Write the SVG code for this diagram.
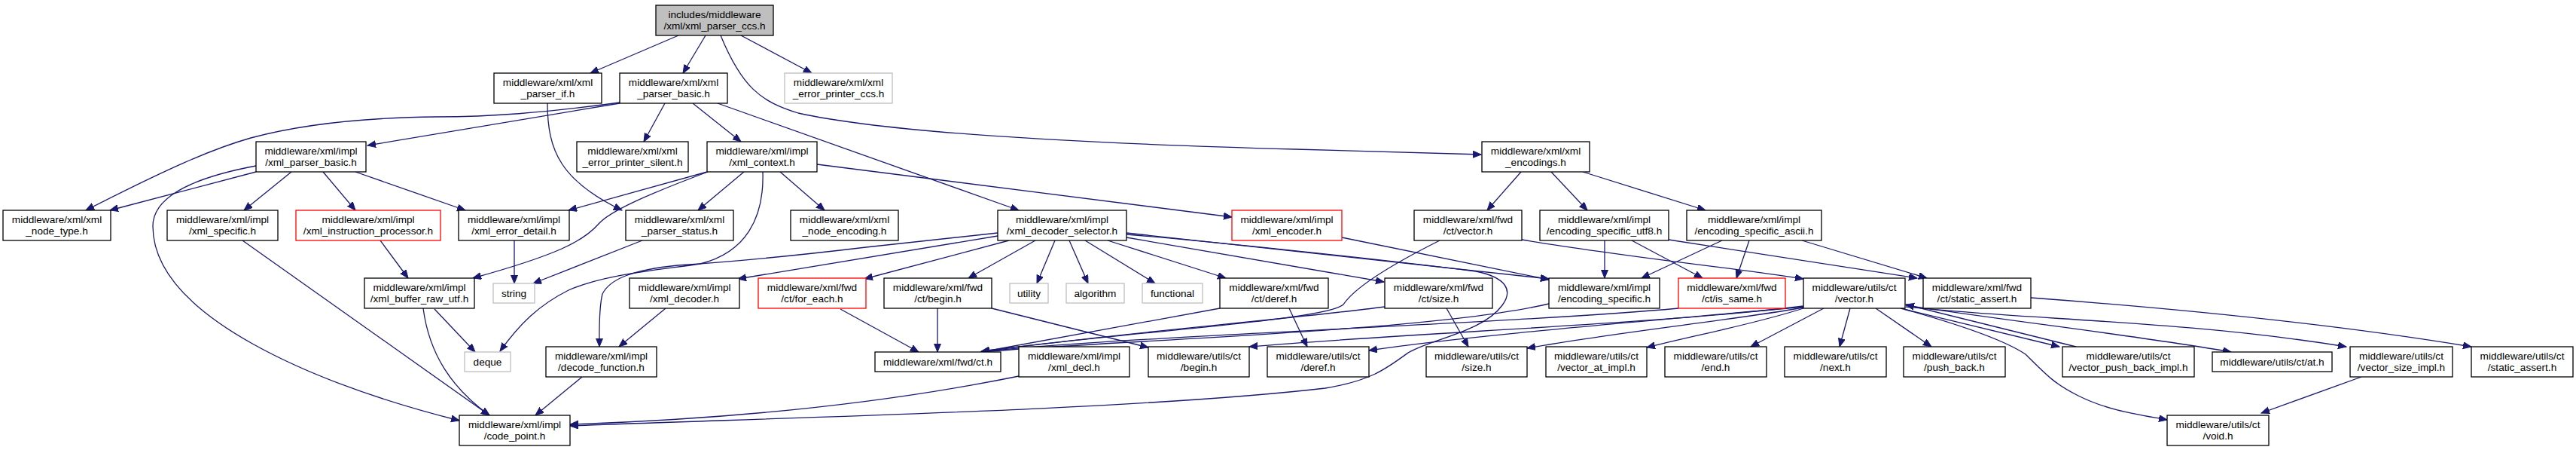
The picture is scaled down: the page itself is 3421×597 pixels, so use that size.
<svg xmlns="http://www.w3.org/2000/svg" width="3421" height="597" viewBox="0 0 3421 597">
<style>
.n rect{fill:#fff;stroke:#000;stroke-width:1.3}
.root rect{fill:#bfbfbf}
.ext rect{stroke:#bfbfbf}
.red rect{stroke:#ff0000}
text{font-family:"Liberation Sans",Arial,Helvetica,sans-serif;font-size:13.6px;text-anchor:middle;fill:#000}
#edges path{fill:none;stroke:#191970;stroke-width:1.3;marker-end:url(#a)}
</style>
<defs>
<marker id="a" markerWidth="12" markerHeight="10" refX="11" refY="4.5" orient="auto" markerUnits="userSpaceOnUse"><path d="M0,0 L11,4.5 L0,9 z" fill="#191970" stroke="#191970" stroke-width="1"/></marker>
</defs>
<rect width="3421" height="597" fill="#fff"/>
<g id="edges">
<path d="M901,47 L784,97"/>
<path d="M937,47 L907,97"/>
<path d="M984,47 L1078,97"/>
<path d="M957,47 C985,115 1010,135 1060,150 C1150,170 1350,188 1720,198 L1967,205"/>
<path d="M727,137 C727,200 745,240 826,279"/>
<path d="M823,137 L488,193"/>
<path d="M823,136 C720,150 650,155 580,155 C480,156 400,165 333,183 C280,198 220,225 114,279"/>
<path d="M883,137 L855,188"/>
<path d="M920,137 L984,188"/>
<path d="M953,137 L1353,279"/>
<path d="M340,228 L146,279"/>
<path d="M387,228 L324,279"/>
<path d="M429,228 L472,279"/>
<path d="M472,228 L618,279"/>
<path d="M340,220 C260,235 203,260 203,300 C203,420 420,510 610,558"/>
<path d="M939,228 L755,279"/>
<path d="M988,228 L927,279"/>
<path d="M1036,228 L1095,279"/>
<path d="M1085,218 L1636,288"/>
<path d="M940,228 C860,258 810,280 795,297 C775,320 740,338 628,369"/>
<path d="M1013,228 C1015,290 990,335 930,350 C860,360 800,365 755,385 C715,405 690,430 664,466"/>
<path d="M683,319 L683,376"/>
<path d="M853,319 L708,376"/>
<path d="M505,319 L542,369"/>
<path d="M322,319 L650,551"/>
<path d="M577,410 L631,467"/>
<path d="M562,409 C570,470 600,515 650,551"/>
<path d="M773,500 L711,551"/>
<path d="M884,409 L822,460"/>
<path d="M1325,309 L1150,328 C1050,340 960,348 900,352 C840,358 810,370 800,390 C795,410 796,440 796,460"/>
<path d="M1325,313 L980,370"/>
<path d="M1340,319 L1148,370"/>
<path d="M1375,319 L1286,369"/>
<path d="M1401,319 L1377,376"/>
<path d="M1420,319 L1445,376"/>
<path d="M1441,319 L1534,376"/>
<path d="M1471,319 L1628,369"/>
<path d="M1496,315 L1838,374"/>
<path d="M1496,309 L2057,370"/>
<path d="M1496,311 C1600,320 1800,340 1960,360 C2000,368 2010,385 1995,405 C1970,440 1900,450 1870,468 C1840,490 1820,505 1760,515 C1500,545 1000,555 757,565"/>
<path d="M1353,499 C1200,530 1000,555 757,563"/>
<path d="M1782,315 L2057,371"/>
<path d="M2020,228 L1975,279"/>
<path d="M2060,228 L2108,279"/>
<path d="M2102,228 L2265,279"/>
<path d="M2131,319 L2131,369"/>
<path d="M2167,319 L2261,369"/>
<path d="M2287,319 L2180,369"/>
<path d="M2323,319 L2306,369"/>
<path d="M2393,319 L2559,369"/>
<path d="M2216,318 L2546,369"/>
<path d="M2021,318 C2150,340 2300,355 2395,370"/>
<path d="M1912,319 C1850,350 1800,380 1784,404 C1760,425 1500,440 1303,466"/>
<path d="M1245,409 L1245,467"/>
<path d="M1116,410 L1220,467"/>
<path d="M1317,409 L1525,461"/>
<path d="M1620,409 L1303,467"/>
<path d="M1712,409 L1736,460"/>
<path d="M1921,409 L1950,460"/>
<path d="M1839,407 C1700,425 1450,445 1303,467"/>
<path d="M2229,409 C2000,430 1500,445 1303,467"/>
<path d="M2057,403 C1900,440 1500,450 1303,467"/>
<path d="M2697,395 C2900,410 3100,430 3282,460"/>
<path d="M2422,409 L2325,460"/>
<path d="M2457,409 L2443,460"/>
<path d="M2491,409 L2565,460"/>
<path d="M2524,409 L2735,460"/>
<path d="M2757,460 L2531,404"/>
<path d="M2531,405 C2700,430 2850,447 2963,467"/>
<path d="M2531,407 C2700,425 2900,425 3116,460"/>
<path d="M2528,410 C2600,430 2660,450 2690,470 C2720,500 2730,510 2760,525 C2800,545 2840,550 2878,557"/>
<path d="M3136,500 L3003,548"/>
<path d="M2395,406 C2200,430 1900,440 1659,460"/>
<path d="M2395,407 C2200,425 1950,445 1818,465"/>
<path d="M2395,408 C2300,425 2150,440 2028,462"/>
<path d="M2395,409 C2330,430 2250,445 2187,461"/>
</g>
<g id="n0" class="n root"><rect x="871" y="7" width="156" height="40"/><text x="949" y="24">includes/middleware</text><text x="949" y="39">/xml/xml_parser_ccs.h</text></g>
<g id="n1" class="n"><rect x="656" y="97" width="143" height="40"/><text x="727.5" y="114">middleware/xml/xml</text><text x="727.5" y="129">_parser_if.h</text></g>
<g id="n2" class="n"><rect x="823" y="97" width="143" height="40"/><text x="894.5" y="114">middleware/xml/xml</text><text x="894.5" y="129">_parser_basic.h</text></g>
<g id="n3" class="n ext"><rect x="1042" y="97" width="143" height="40"/><text x="1113.5" y="114">middleware/xml/xml</text><text x="1113.5" y="129">_error_printer_ccs.h</text></g>
<g id="n4" class="n"><rect x="340" y="188" width="146" height="40"/><text x="413" y="205">middleware/xml/impl</text><text x="413" y="220">/xml_parser_basic.h</text></g>
<g id="n5" class="n"><rect x="766" y="188" width="148" height="40"/><text x="840" y="205">middleware/xml/xml</text><text x="840" y="220">_error_printer_silent.h</text></g>
<g id="n6" class="n"><rect x="939" y="188" width="146" height="40"/><text x="1012" y="205">middleware/xml/impl</text><text x="1012" y="220">/xml_context.h</text></g>
<g id="n7" class="n"><rect x="1968" y="188" width="143" height="40"/><text x="2039.5" y="205">middleware/xml/xml</text><text x="2039.5" y="220">_encodings.h</text></g>
<g id="n8" class="n"><rect x="4" y="279" width="143" height="40"/><text x="75.5" y="296">middleware/xml/xml</text><text x="75.5" y="311">_node_type.h</text></g>
<g id="n9" class="n"><rect x="222" y="279" width="147" height="40"/><text x="295.5" y="296">middleware/xml/impl</text><text x="295.5" y="311">/xml_specific.h</text></g>
<g id="n10" class="n red"><rect x="393" y="279" width="192" height="40"/><text x="489" y="296">middleware/xml/impl</text><text x="489" y="311">/xml_instruction_processor.h</text></g>
<g id="n11" class="n"><rect x="609" y="279" width="147" height="40"/><text x="682.5" y="296">middleware/xml/impl</text><text x="682.5" y="311">/xml_error_detail.h</text></g>
<g id="n12" class="n"><rect x="831" y="279" width="143" height="40"/><text x="902.5" y="296">middleware/xml/xml</text><text x="902.5" y="311">_parser_status.h</text></g>
<g id="n13" class="n"><rect x="1050" y="279" width="143" height="40"/><text x="1121.5" y="296">middleware/xml/xml</text><text x="1121.5" y="311">_node_encoding.h</text></g>
<g id="n14" class="n"><rect x="1325" y="279" width="171" height="40"/><text x="1410.5" y="296">middleware/xml/impl</text><text x="1410.5" y="311">/xml_decoder_selector.h</text></g>
<g id="n15" class="n red"><rect x="1636" y="279" width="146" height="40"/><text x="1709" y="296">middleware/xml/impl</text><text x="1709" y="311">/xml_encoder.h</text></g>
<g id="n16" class="n"><rect x="1878" y="279" width="143" height="40"/><text x="1949.5" y="296">middleware/xml/fwd</text><text x="1949.5" y="311">/ct/vector.h</text></g>
<g id="n17" class="n"><rect x="2045" y="279" width="171" height="40"/><text x="2130.5" y="296">middleware/xml/impl</text><text x="2130.5" y="311">/encoding_specific_utf8.h</text></g>
<g id="n18" class="n"><rect x="2240" y="279" width="179" height="40"/><text x="2329.5" y="296">middleware/xml/impl</text><text x="2329.5" y="311">/encoding_specific_ascii.h</text></g>
<g id="n19" class="n"><rect x="484" y="369" width="146" height="40"/><text x="557" y="386">middleware/xml/impl</text><text x="557" y="401">/xml_buffer_raw_utf.h</text></g>
<g id="n20" class="n ext"><rect x="655" y="376" width="55" height="26"/><text x="682.5" y="394">string</text></g>
<g id="n21" class="n"><rect x="836" y="369" width="146" height="40"/><text x="909" y="386">middleware/xml/impl</text><text x="909" y="401">/xml_decoder.h</text></g>
<g id="n22" class="n red"><rect x="1007" y="369" width="143" height="40"/><text x="1078.5" y="386">middleware/xml/fwd</text><text x="1078.5" y="401">/ct/for_each.h</text></g>
<g id="n23" class="n"><rect x="1174" y="369" width="143" height="40"/><text x="1245.5" y="386">middleware/xml/fwd</text><text x="1245.5" y="401">/ct/begin.h</text></g>
<g id="n24" class="n ext"><rect x="1341" y="376" width="51" height="26"/><text x="1366.5" y="394">utility</text></g>
<g id="n25" class="n ext"><rect x="1416" y="376" width="77" height="26"/><text x="1454.5" y="394">algorithm</text></g>
<g id="n26" class="n ext"><rect x="1517" y="376" width="80" height="26"/><text x="1557" y="394">functional</text></g>
<g id="n27" class="n"><rect x="1620" y="369" width="144" height="40"/><text x="1692" y="386">middleware/xml/fwd</text><text x="1692" y="401">/ct/deref.h</text></g>
<g id="n28" class="n"><rect x="1839" y="369" width="143" height="40"/><text x="1910.5" y="386">middleware/xml/fwd</text><text x="1910.5" y="401">/ct/size.h</text></g>
<g id="n29" class="n"><rect x="2057" y="369" width="147" height="40"/><text x="2130.5" y="386">middleware/xml/impl</text><text x="2130.5" y="401">/encoding_specific.h</text></g>
<g id="n30" class="n red"><rect x="2229" y="369" width="142" height="40"/><text x="2300" y="386">middleware/xml/fwd</text><text x="2300" y="401">/ct/is_same.h</text></g>
<g id="n31" class="n"><rect x="2395" y="369" width="135" height="40"/><text x="2462.5" y="386">middleware/utils/ct</text><text x="2462.5" y="401">/vector.h</text></g>
<g id="n32" class="n"><rect x="2554" y="369" width="143" height="40"/><text x="2625.5" y="386">middleware/xml/fwd</text><text x="2625.5" y="401">/ct/static_assert.h</text></g>
<g id="n33" class="n ext"><rect x="617" y="467" width="61" height="26"/><text x="647.5" y="485">deque</text></g>
<g id="n34" class="n"><rect x="725" y="460" width="147" height="40"/><text x="798.5" y="477">middleware/xml/impl</text><text x="798.5" y="492">/decode_function.h</text></g>
<g id="n35" class="n"><rect x="1162" y="467" width="167" height="26"/><text x="1245.5" y="485">middleware/xml/fwd/ct.h</text></g>
<g id="n36" class="n"><rect x="1353" y="460" width="147" height="40"/><text x="1426.5" y="477">middleware/xml/impl</text><text x="1426.5" y="492">/xml_decl.h</text></g>
<g id="n37" class="n"><rect x="1525" y="460" width="134" height="40"/><text x="1592" y="477">middleware/utils/ct</text><text x="1592" y="492">/begin.h</text></g>
<g id="n38" class="n"><rect x="1683" y="460" width="135" height="40"/><text x="1750.5" y="477">middleware/utils/ct</text><text x="1750.5" y="492">/deref.h</text></g>
<g id="n39" class="n"><rect x="1894" y="460" width="134" height="40"/><text x="1961" y="477">middleware/utils/ct</text><text x="1961" y="492">/size.h</text></g>
<g id="n40" class="n"><rect x="2053" y="460" width="134" height="40"/><text x="2120" y="477">middleware/utils/ct</text><text x="2120" y="492">/vector_at_impl.h</text></g>
<g id="n41" class="n"><rect x="2211" y="460" width="135" height="40"/><text x="2278.5" y="477">middleware/utils/ct</text><text x="2278.5" y="492">/end.h</text></g>
<g id="n42" class="n"><rect x="2370" y="460" width="135" height="40"/><text x="2437.5" y="477">middleware/utils/ct</text><text x="2437.5" y="492">/next.h</text></g>
<g id="n43" class="n"><rect x="2528" y="460" width="135" height="40"/><text x="2595.5" y="477">middleware/utils/ct</text><text x="2595.5" y="492">/push_back.h</text></g>
<g id="n44" class="n"><rect x="2739" y="460" width="175" height="40"/><text x="2826.5" y="477">middleware/utils/ct</text><text x="2826.5" y="492">/vector_push_back_impl.h</text></g>
<g id="n45" class="n"><rect x="2938" y="467" width="159" height="26"/><text x="3017.5" y="485">middleware/utils/ct/at.h</text></g>
<g id="n46" class="n"><rect x="3121" y="460" width="136" height="40"/><text x="3189" y="477">middleware/utils/ct</text><text x="3189" y="492">/vector_size_impl.h</text></g>
<g id="n47" class="n"><rect x="3282" y="460" width="135" height="40"/><text x="3349.5" y="477">middleware/utils/ct</text><text x="3349.5" y="492">/static_assert.h</text></g>
<g id="n48" class="n"><rect x="610" y="551" width="147" height="40"/><text x="683.5" y="568">middleware/xml/impl</text><text x="683.5" y="583">/code_point.h</text></g>
<g id="n49" class="n"><rect x="2878" y="551" width="135" height="40"/><text x="2945.5" y="568">middleware/utils/ct</text><text x="2945.5" y="583">/void.h</text></g>
</svg>
